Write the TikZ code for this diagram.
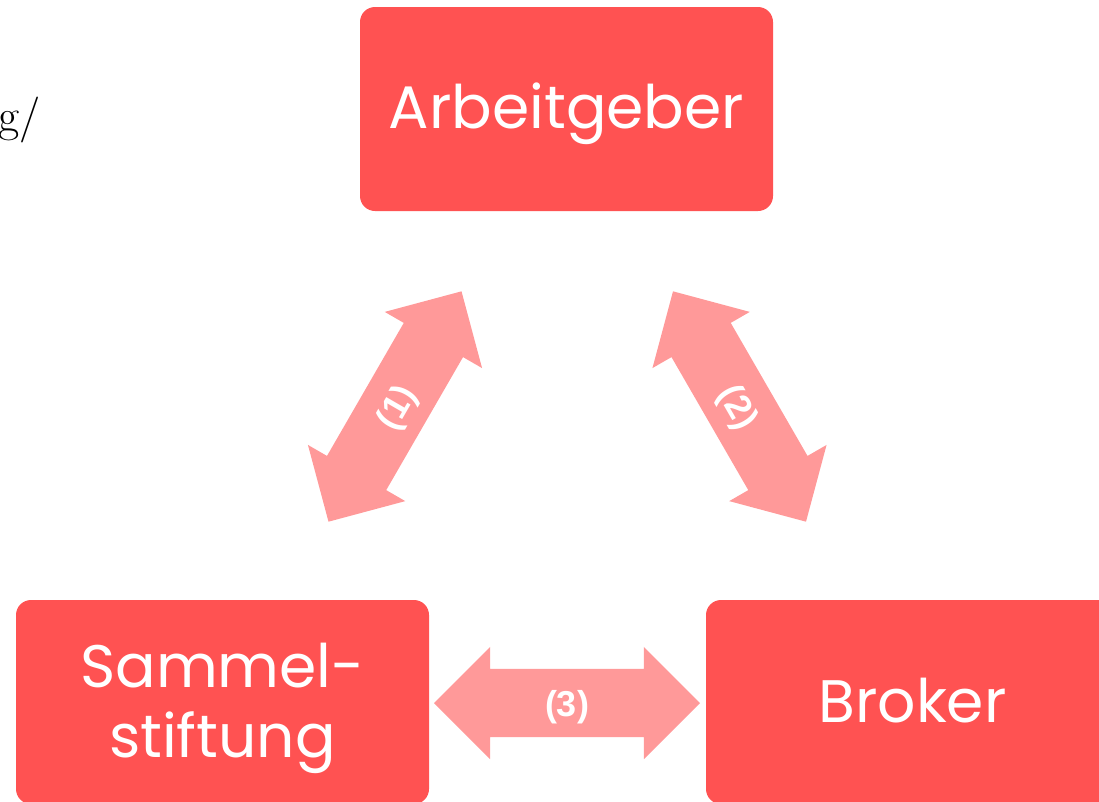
\documentclass[tikz,border=0pt]{standalone}
\usepackage{fontspec}
\setmainfont{Latin Modern Roman}
\newfontfamily\boxfont{Poppins}
\newfontfamily\numfont{Liberation Sans}
\usetikzlibrary{shapes.arrows}
\definecolor{boxred}{RGB}{255,82,82}
\definecolor{arrowpink}{RGB}{255,153,153}
\tikzset{
  box/.style={fill=boxred, rounded corners=15pt, inner sep=0pt, minimum width=413pt, minimum height=204pt},
  boxtext/.style={text=white, inner sep=0pt, anchor=base, font=\boxfont\fontsize{60}{60}\selectfont},
  dblarrow/.style={double arrow, fill=arrowpink, draw=none, inner xsep=0pt, inner ysep=17pt,
    text height=30pt, text depth=4pt,
    minimum height=266pt, double arrow head extend=22pt,
    text=white, font=\numfont\bfseries\fontsize{36}{36}\selectfont},
}
\begin{document}
\begin{tikzpicture}[x=1pt, y=-1pt]
\useasboundingbox (0,0) rectangle (1099,801);
\node[inner sep=0pt, anchor=base east, font=\fontsize{46}{46}\selectfont] (frag) at (41,131) {g/};
\node[box] (arb) at (566.5,109) {};
\node[boxtext] (arbt) at (566.5,128) {Arbeitgeber};
\node[box] (sam) at (222.5,702) {};
\node[boxtext] (samt1) at (222.5,687) {Sammel-};
\node[boxtext] (samt2) at (222.5,757) {stiftung};
\node[box] (bro) at (912.5,702) {};
\node[boxtext] (brot) at (912.5,722) {Broker};
\node[dblarrow, rotate=60] (a1) at (395,406.5) {(1)};
\node[dblarrow, rotate=-60] (a2) at (739.5,406.5) {(2)};
\node[dblarrow] (a3) at (567,703) {(3)};
\end{tikzpicture}
\end{document}
